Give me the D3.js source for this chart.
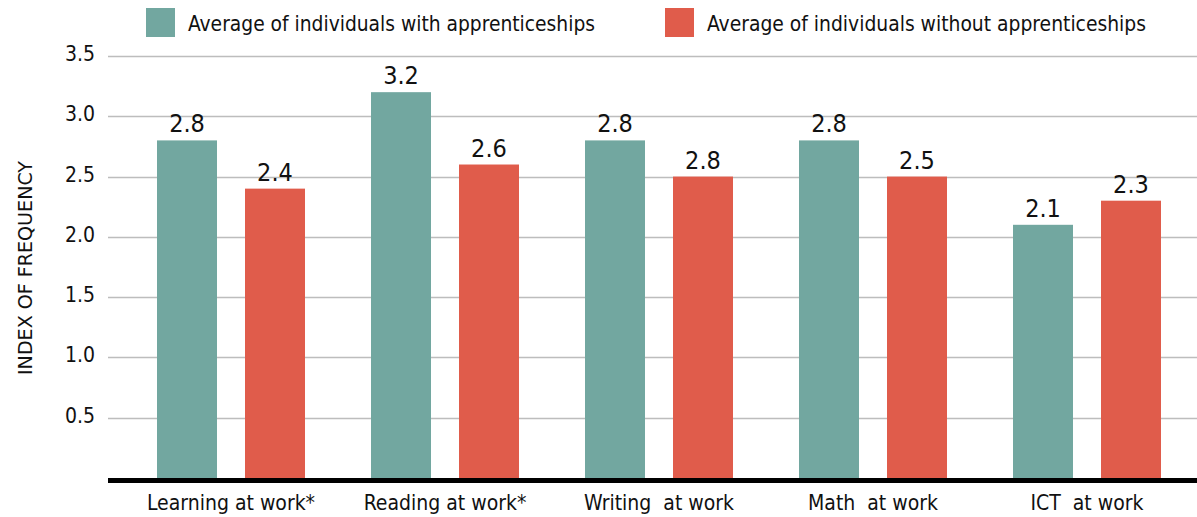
<!DOCTYPE html>
<html>
<head>
<meta charset="utf-8">
<script src="https://cdn.jsdelivr.net/npm/d3@7"></script>
<style>
  body { margin: 0; background: #fff; }
  svg { display: block; font-family: "Liberation Sans Narrow", "DejaVu Sans Condensed", "Roboto", sans-serif; }
</style>
</head>
<body>
<div id="chart"></div>
<script>
// chart data
var categories = ['Learning at work*', 'Reading at work*', 'Writing  at work', 'Math  at work', 'ICT  at work'];
var seriesNames = ['Average of individuals with apprenticeships', 'Average of individuals without apprenticeships'];
var withApprenticeship = [2.8, 3.2, 2.8, 2.8, 2.1];
var withoutApprenticeship = [2.4, 2.6, 2.5, 2.5, 2.3];
// printed labels (as shown in the original, one differs from the bar height)
var withLabels = ['2.8', '3.2', '2.8', '2.8', '2.1'];
var withoutLabels = ['2.4', '2.6', '2.8', '2.5', '2.3'];
var yTicks = [0.5, 1.0, 1.5, 2.0, 2.5, 3.0, 3.5];

var _width = 1197, _height = 517,
    _colors = ['#72a7a0', '#e05c4b'];

var svg = d3.select('#chart').append('svg')
    .attr('width', _width)
    .attr('height', _height);

var rows = categories.map(function(c, i) {
  return {
    category: c,
    bars: [
      { series: 0, value: withApprenticeship[i], label: withLabels[i] },
      { series: 1, value: withoutApprenticeship[i], label: withoutLabels[i] }
    ]
  };
});

var y = d3.scaleLinear().domain([0, 3.5]).range([478, 56]);

var x0 = d3.scaleBand()
    .domain(categories)
    .range([124, 1194]);

var x1 = d3.scaleBand()
    .domain([0, 1])
    .range([-74, 74])
    .paddingInner(28 / 88);

// grid lines
svg.append('g')
    .attr('class', 'grid')
  .selectAll('line')
  .data(yTicks)
  .enter().append('line')
    .attr('x1', 108)
    .attr('x2', _width)
    .attr('y1', function(d) { return Math.round(y(d)) + 0.5; })
    .attr('y2', function(d) { return Math.round(y(d)) + 0.5; })
    .attr('stroke', '#bdbdbd')
    .attr('stroke-width', 1.5);

// y tick labels
svg.append('g')
  .selectAll('text')
  .data(yTicks)
  .enter().append('text')
    .attr('x', 95)
    .attr('y', function(d) { return y(d) + 5; })
    .attr('text-anchor', 'end')
    .attr('font-size', 21)
    .attr('fill', '#111')
    .text(function(d) { return d3.format('.1f')(d); });

// y axis title
svg.append('text')
    .attr('transform', 'translate(32,268) rotate(-90)')
    .attr('text-anchor', 'middle')
    .attr('font-size', 20)
    .attr('textLength', 214)
    .attr('lengthAdjust', 'spacingAndGlyphs')
    .attr('fill', '#111')
    .text('INDEX OF FREQUENCY');

// bars
var groups = svg.append('g')
    .attr('class', 'bars')
  .selectAll('g')
  .data(rows)
  .enter().append('g')
    .attr('transform', function(d) {
      return 'translate(' + (x0(d.category) + x0.bandwidth() / 2) + ',0)';
    });

groups.selectAll('rect')
  .data(function(d) { return d.bars; })
  .enter().append('rect')
    .attr('x', function(d) { return x1(d.series); })
    .attr('width', x1.bandwidth())
    .attr('y', function(d) { return y(d.value); })
    .attr('height', function(d) { return y(0) - y(d.value); })
    .attr('fill', function(d) { return _colors[d.series]; });

groups.selectAll('text.value')
  .data(function(d) { return d.bars; })
  .enter().append('text')
    .attr('class', 'value')
    .attr('x', function(d) { return x1(d.series) + x1.bandwidth() / 2; })
    .attr('y', function(d) { return y(d.value) - 8; })
    .attr('text-anchor', 'middle')
    .attr('font-size', 25)
    .attr('fill', '#111')
    .text(function(d) { return d.label; });

// baseline
svg.append('line')
    .attr('x1', 108)
    .attr('x2', _width)
    .attr('y1', y(0) + 2.5)
    .attr('y2', y(0) + 2.5)
    .attr('stroke', '#000')
    .attr('stroke-width', 5);

// category labels
svg.append('g')
  .selectAll('text')
  .data(categories)
  .enter().append('text')
    .attr('x', function(d) { return x0(d) + x0.bandwidth() / 2; })
    .attr('y', 510)
    .attr('text-anchor', 'middle')
    .attr('font-size', 21)
    .attr('fill', '#111')
    .style('white-space', 'pre')
    .text(function(d) { return d; });

// legend
var legendX = [146, 665],
    legendTextWidth = [407, 439];
var legend = svg.append('g')
    .attr('class', 'legend')
  .selectAll('g')
  .data(seriesNames)
  .enter().append('g')
    .attr('transform', function(d, i) { return 'translate(' + legendX[i] + ',8)'; });

legend.append('rect')
    .attr('width', 29)
    .attr('height', 29)
    .attr('fill', function(d, i) { return _colors[i]; });

legend.append('text')
    .attr('x', 42)
    .attr('y', 23)
    .attr('font-size', 22)
    .attr('textLength', function(d, i) { return legendTextWidth[i]; })
    .attr('lengthAdjust', 'spacingAndGlyphs')
    .attr('fill', '#111')
    .text(function(d) { return d; });
</script>
</body>
</html>
